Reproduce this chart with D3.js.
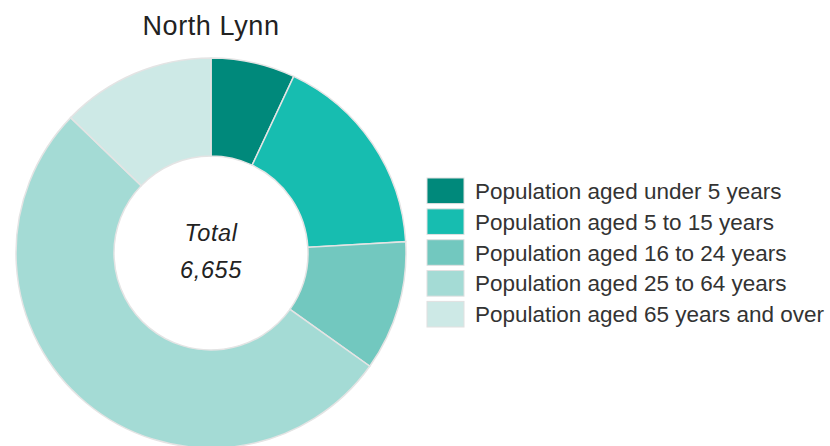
<!DOCTYPE html>
<html>
<head>
<meta charset="utf-8">
<script src="https://cdn.jsdelivr.net/npm/d3@7"></script>
<style>
  body { margin: 0; background: #fff; }
  text { font-family: "Liberation Sans", Arial, sans-serif; }
</style>
</head>
<body>
<svg id="chart" width="830" height="446"></svg>
<script>
const WIDTH = 830;
const HEIGHT = 446;

const title = "North Lynn";
const categories = [
  "Population aged under 5 years",
  "Population aged 5 to 15 years",
  "Population aged 16 to 24 years",
  "Population aged 25 to 64 years",
  "Population aged 65 years and over"
];
const values = [464, 1138, 718, 3484, 851];
const colours = ["#00897b", "#17bdb0", "#72c8bf", "#a4dbd5", "#cde9e6"];

const CX = 211, CY = 253, R_OUT = 195, R_IN = 97;

const svg = d3.select("#chart");

const pie = d3.pie().sort(null).value(d => d);
const arc = d3.arc().innerRadius(R_IN).outerRadius(R_OUT);
const color = d3.scaleOrdinal().domain(categories).range(colours);

// title
svg.append("text")
  .attr("x", CX)
  .attr("y", 35)
  .attr("text-anchor", "middle")
  .attr("font-size", 27)
  .attr("letter-spacing", 0.6)
  .attr("fill", "#222")
  .text(title);

// donut
const g = svg.append("g").attr("transform", `translate(${CX},${CY})`);
g.selectAll("path")
  .data(pie(values))
  .join("path")
  .attr("d", arc)
  .attr("fill", (d, i) => color(categories[i]))
  .attr("stroke", "#e4e4e4")
  .attr("stroke-width", 1.5);

// total in the middle
const total = d3.sum(values);
g.append("text")
  .attr("y", -12)
  .attr("text-anchor", "middle")
  .attr("font-size", 23.5)
  .attr("letter-spacing", 0.6)
  .attr("font-style", "italic")
  .attr("fill", "#222")
  .text("Total");
g.append("text")
  .attr("y", 25)
  .attr("text-anchor", "middle")
  .attr("font-size", 23.5)
  .attr("letter-spacing", 0.6)
  .attr("font-style", "italic")
  .attr("fill", "#222")
  .text(d3.format(",")(total));

// legend
const y = d3.scaleBand().domain(categories).range([178, 327]).paddingInner(0.17);
const legend = svg.append("g").attr("transform", "translate(427,0)");
const rows = legend.selectAll("g")
  .data(categories)
  .join("g")
  .attr("transform", d => `translate(0,${y(d)})`);
rows.append("rect")
  .attr("width", 37)
  .attr("height", y.bandwidth())
  .attr("fill", d => color(d))
  .attr("stroke", "#e0e0e0")
  .attr("stroke-width", 1);
rows.append("text")
  .attr("x", 48)
  .attr("y", y.bandwidth() / 2)
  .attr("dy", "0.36em")
  .attr("font-size", 22.5)
  .attr("fill", "#333")
  .text(d => d);
</script>
</body>
</html>
